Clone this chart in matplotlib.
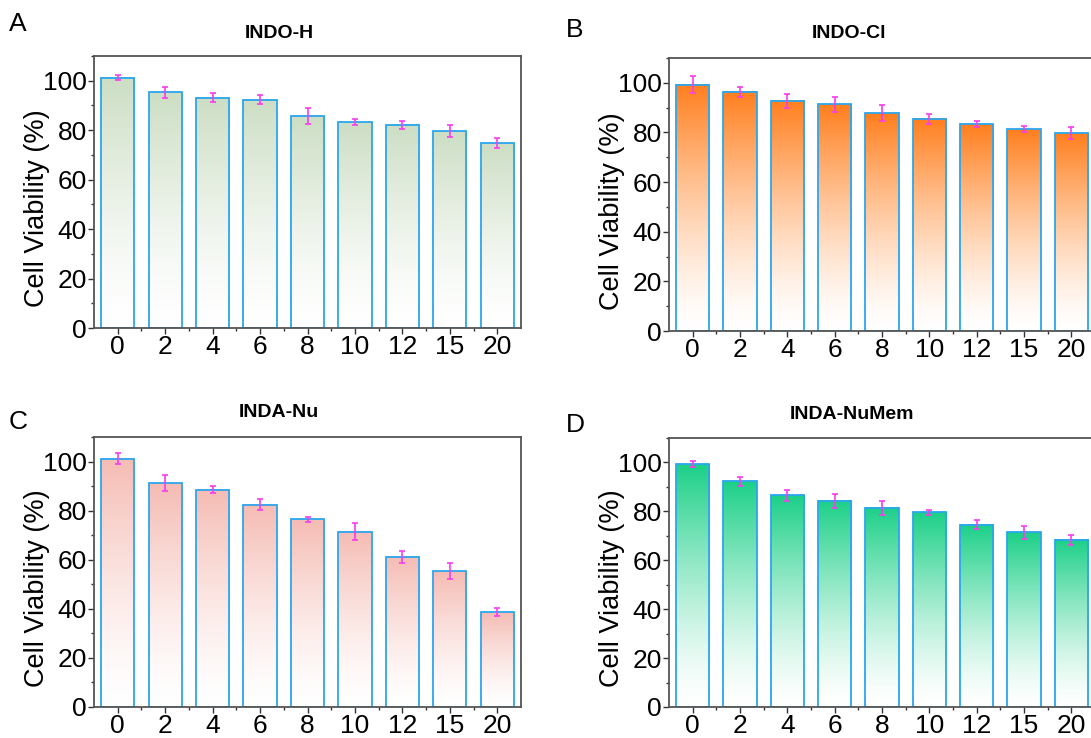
import numpy as np
import matplotlib.pyplot as plt
from matplotlib.colors import LinearSegmentedColormap
from matplotlib.ticker import MultipleLocator, FixedLocator

plt.rcParams['font.family'] = ['Liberation Sans', 'DejaVu Sans']

doses = ['0', '2', '4', '6', '8', '10', '12', '15', '20']

indo_h = [101.2, 95.3, 93.2, 92.4, 85.6, 83.2, 82.1, 79.6, 74.7]
indo_h_err = [1.1, 2.1, 2.0, 1.8, 3.2, 1.2, 1.6, 2.3, 2.0]

indo_cl = [99.3, 96.4, 92.7, 91.3, 87.8, 85.5, 83.3, 81.3, 79.7]
indo_cl_err = [3.6, 2.1, 2.8, 3.1, 3.2, 1.9, 1.3, 1.2, 2.3]

inda_nu = [101.2, 91.2, 88.5, 82.5, 76.5, 71.4, 61.2, 55.4, 38.6]
inda_nu_err = [2.4, 3.2, 1.5, 2.2, 1.1, 3.4, 2.4, 3.1, 1.6]

inda_numem = [99.3, 92.3, 86.5, 84.4, 81.5, 79.6, 74.6, 71.4, 68.4]
inda_numem_err = [1.2, 1.8, 2.4, 2.9, 2.8, 1.1, 1.9, 2.6, 2.0]

titles = ['INDO-H', 'INDO-Cl', 'INDA-Nu', 'INDA-NuMem']
letters = ['A', 'B', 'C', 'D']
top_colors = ['#ccdec4', '#ff7f1e', '#f5bcb4', '#1cd088']
values = [indo_h, indo_cl, inda_nu, inda_numem]
errors = [indo_h_err, indo_cl_err, inda_nu_err, inda_numem_err]

W, H = 1091, 738
fig = plt.figure(figsize=(W / 100, H / 100), dpi=100)

# axes boxes in pixels: left, top, right, bottom
boxes = [(94, 56, 521, 328), (669, 58, 1095, 331),
         (94, 437, 521, 707), (669, 438, 1095, 707)]
title_x = [279, 849, 279, 852]
title_y = [33, 33, 412, 414]
letter_pos = [(9, 24), (566, 30), (9, 422), (566, 425)]

bar_w = 0.7
x = np.arange(len(doses))
grad = np.linspace(0, 1, 256) ** 1.4

for k in range(4):
    l, t, r, b = boxes[k]
    ax = fig.add_axes([l / W, 1 - b / H, (r - l) / W, (b - t) / H])
    cmap = LinearSegmentedColormap.from_list('g', ['#ffffff', top_colors[k]])
    for i, v in enumerate(values[k]):
        ax.imshow(grad.reshape(-1, 1), cmap=cmap, vmin=0, vmax=1,
                  extent=[x[i] - bar_w / 2, x[i] + bar_w / 2, 0, v],
                  origin='lower', aspect='auto', zorder=1)
    ax.bar(x, values[k], width=bar_w, fill=False, edgecolor='#2ba6ee',
           linewidth=1.3, zorder=2)
    ax.errorbar(x, values[k], yerr=errors[k], fmt='none', ecolor='#f83cec',
                elinewidth=1.2, capsize=2.5, capthick=1.2, zorder=3)

    ax.set_xlim(-0.5, 8.5)
    ax.set_ylim(0, 110)
    ax.set_xticks(x)
    ax.set_xticklabels(doses)
    ax.xaxis.set_minor_locator(FixedLocator(x[:-1] + 0.5))
    ax.set_yticks([0, 20, 40, 60, 80, 100])
    ax.yaxis.set_minor_locator(MultipleLocator(10))
    ax.tick_params(axis='both', which='major', direction='out', length=4,
                   width=1, pad=1, labelsize=19, color='#333333')
    ax.tick_params(axis='both', which='minor', direction='out', length=2,
                   width=1, color='#333333')
    for sp in ax.spines.values():
        sp.set_color('#555555')
        sp.set_linewidth(1.3)
    ax.set_ylabel('Cell Viability (%)', fontsize=19.5)
    ax.yaxis.set_label_coords(-0.104, 0.44)

    fig.text(title_x[k] / W, 1 - title_y[k] / H, titles[k], ha='center',
             va='center', fontsize=14, fontweight='bold')
    fig.text(letter_pos[k][0] / W, 1 - letter_pos[k][1] / H, letters[k],
             ha='left', va='center', fontsize=19)

fig.savefig('out.png', dpi=100)
